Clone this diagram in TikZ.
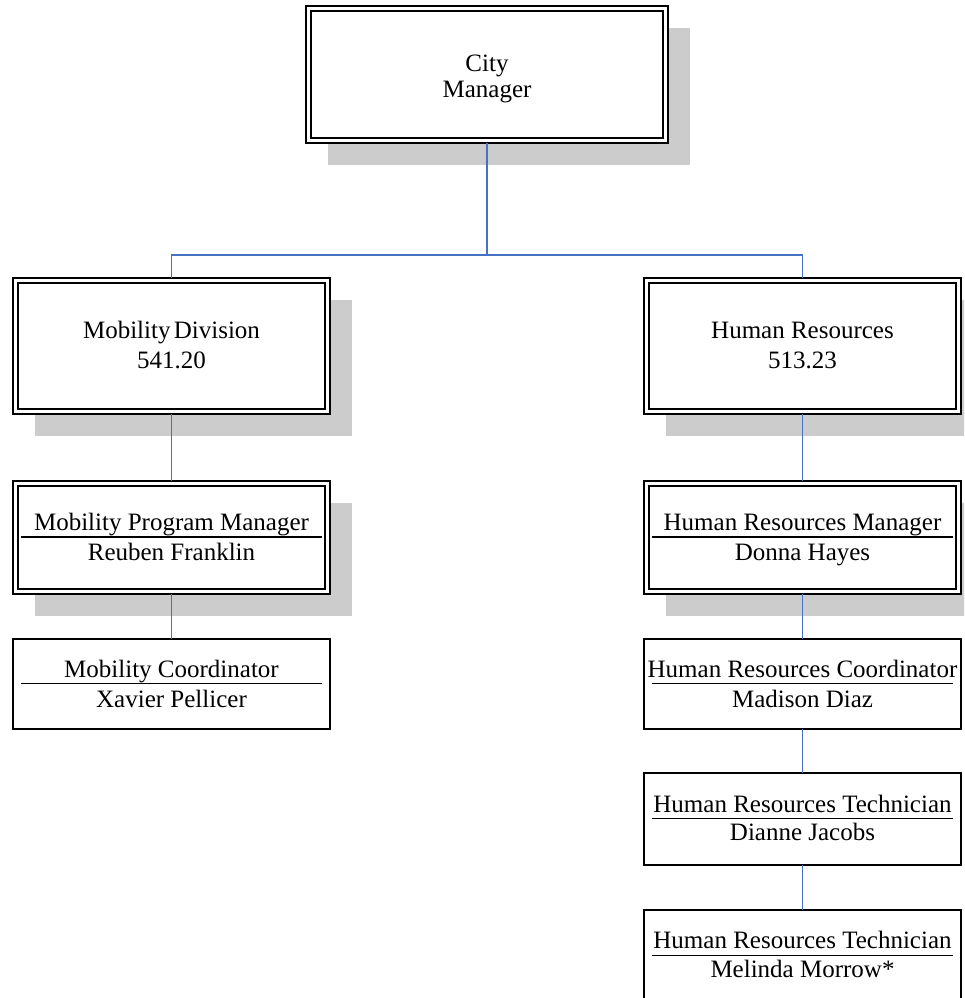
\documentclass[tikz,border=0pt]{standalone}
\usepackage{fontspec}
\setmainfont{Liberation Serif}
\usetikzlibrary{shadows}
\definecolor{shadowgray}{RGB}{204,204,204}
\definecolor{connblue}{RGB}{68,114,196}
\begin{document}
\begin{tikzpicture}[x=1pt,y=-1pt,
  dblbox/.style={draw=black, line width=2.2pt, fill=white, outer sep=0pt, inner sep=0pt,
    minimum width=317pt,
    drop shadow={shadow xshift=22pt, shadow yshift=-22pt, fill=shadowgray, opacity=1}},
  sglbox/.style={draw=black, line width=1.8pt, fill=white, outer sep=0pt, inner sep=0pt,
    minimum width=317pt},
  innerline/.style={draw=black, line width=1.4pt},
  conn/.style={draw=connblue, line width=1.4pt},
  lbl/.style={font=\fontsize{25}{29}\selectfont, inner sep=0pt, anchor=base},
  rulel/.style={draw=black, line width=1.3pt}]
\useasboundingbox (0,0) rectangle (964,998);
\clip (0,0) rectangle (964,998);

% boxes
\node[dblbox, minimum width=362pt, minimum height=137pt] (cm) at (487,74.5) {};
\node[dblbox, minimum height=136pt] (md) at (171.5,346) {};
\node[dblbox, minimum height=136pt] (hr) at (802.5,346) {};
\node[dblbox, minimum height=113pt] (mpm) at (171.5,537.5) {};
\node[dblbox, minimum height=113pt] (hrm) at (802.5,537.5) {};
\node[sglbox, minimum height=90pt] (mc) at (171.5,684) {};
\node[sglbox, minimum height=90pt] (hrc) at (802.5,684) {};
\node[sglbox, minimum height=92pt] (t1) at (802.5,819) {};
\node[sglbox, minimum height=92pt] (t2) at (802.5,956) {};

% inner borders of double boxes
\foreach \n in {cm,md,hr,mpm,hrm}
  \draw[innerline] ([xshift=5pt,yshift=-5pt]\n.north west) rectangle ([xshift=-5pt,yshift=5pt]\n.south east);

% title rules
\foreach \n in {mpm,hrm,mc,hrc,t1,t2}
  \draw[rulel] ([xshift=8pt,yshift=0.5pt]\n.west) -- ([xshift=-8pt,yshift=0.5pt]\n.east);

% connectors
\coordinate (j) at (487,255);
\draw[conn] (cm.south) -- (j);
\draw[conn] (md.north) |- (j) -| (hr.north);
\draw[conn] (md.south) -- (mpm.north);
\draw[conn] (mpm.south) -- (mc.north);
\draw[conn] (hr.south) -- (hrm.north);
\draw[conn] (hrm.south) -- (hrc.north);
\draw[conn] (hrc.south) -- (t1.north);
\draw[conn] (t1.south) -- (t2.north);

% texts
\node[lbl] (cma) at ([yshift=3.5pt]cm.center) {City};
\node[lbl] (cmb) at ([yshift=-22.5pt]cm.center) {Manager};
\node[lbl] (mda) at ([yshift=8pt]md.center) {Mobility\hspace{-3pt} Division};
\node[lbl] (mdb) at ([yshift=-22pt]md.center) {541.20};
\node[lbl] (hra) at ([yshift=8pt]hr.center) {Human Resources};
\node[lbl] (hrb) at ([yshift=-22pt]hr.center) {513.23};
\node[lbl] (mpma) at ([yshift=7pt]mpm.center) {Mobility Program Manager};
\node[lbl] (mpmb) at ([yshift=-22.5pt]mpm.center) {Reuben Franklin};
\node[lbl] (hrma) at ([yshift=7pt]hrm.center) {Human Resources Manager};
\node[lbl] (hrmb) at ([yshift=-22.5pt]hrm.center) {Donna Hayes};
\node[lbl] (mca) at ([yshift=7pt]mc.center) {Mobility Coordinator};
\node[lbl] (mcb) at ([yshift=-23pt]mc.center) {Xavier Pellicer};
\node[lbl] (hrca) at ([yshift=7pt]hrc.center) {Human Resources Coordinator};
\node[lbl] (hrcb) at ([yshift=-23pt]hrc.center) {Madison Diaz};
\node[lbl] (t1a) at ([yshift=7pt]t1.center) {Human Resources Technician};
\node[lbl] (t1b) at ([yshift=-21pt]t1.center) {Dianne Jacobs};
\node[lbl] (t2a) at ([yshift=8pt]t2.center) {Human Resources Technician};
\node[lbl] (t2b) at ([yshift=-21pt]t2.center) {Melinda Morrow*};
\end{tikzpicture}
\end{document}
